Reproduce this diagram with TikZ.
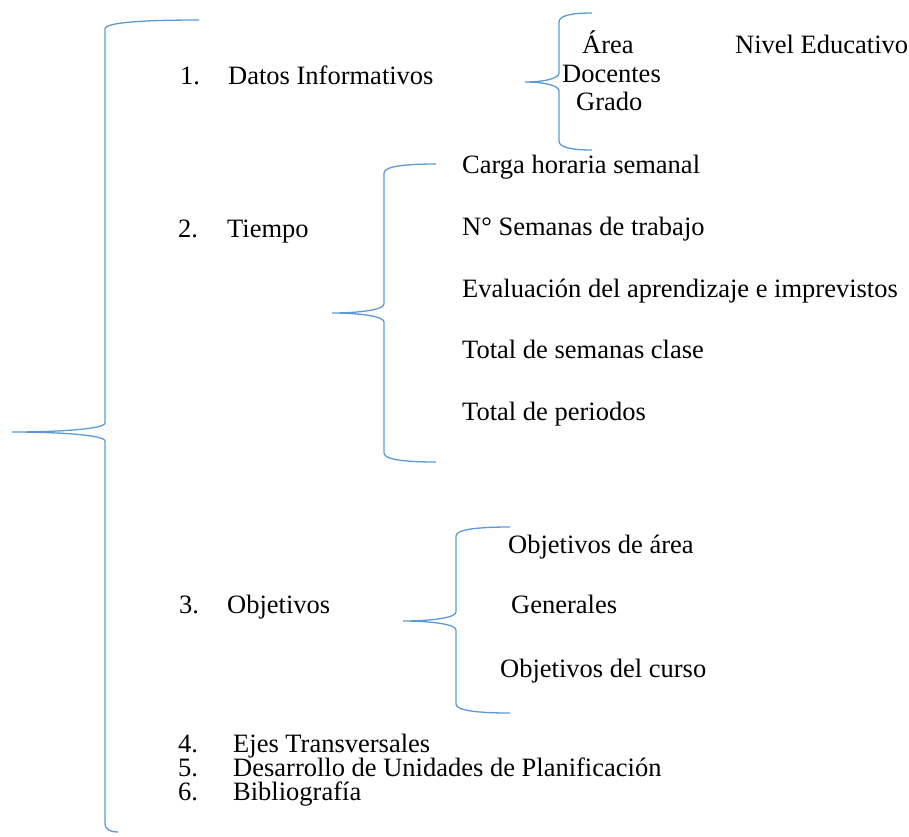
\documentclass[tikz,border=0pt]{standalone}
\usepackage{fontspec}
\setmainfont{Liberation Serif}
\definecolor{bracecol}{HTML}{5B9BD5}
\newcommand\curlybr[7]{% #1 xe top, #2 yt, #3 xv, #4 xt, #5 ym, #6 yb, #7 xe bottom
  \draw[brace] (#1,#2) .. controls ({#3+0.45*(#1-#3)},#2) and (#3,{#2+2}) .. (#3,{#2+9})
    -- (#3,{#5-9}) .. controls (#3,{#5-3}) and ({#4+0.5*(#3-#4)},#5) .. (#4,#5)
    .. controls ({#4+0.5*(#3-#4)},#5) and (#3,{#5+3}) .. (#3,{#5+9})
    -- (#3,{#6-9}) .. controls (#3,{#6-2}) and ({#3+0.45*(#7-#3)},#6) .. (#7,#6);}
\begin{document}
\begin{tikzpicture}[x=1pt,y=-1pt,
  txt/.style={anchor=base west, inner sep=0pt, font=\fontsize{26.5}{30}\selectfont},
  brace/.style={draw=bracecol, line width=1.3pt}]
\useasboundingbox (0,0) rectangle (909,836);
% braces
\curlybr{199}{20}{105}{12}{432}{832}{118}
\curlybr{592}{13}{559}{525}{82}{150}{592}
\curlybr{436}{164}{384}{332}{313}{462}{436}
\curlybr{510}{527}{456}{403}{621}{713}{510}
% item 1
\node[txt] (n1) at (180,84) {1.};
\node[txt] (t1) at (228,84) {Datos Informativos};
\node[txt] (a1) at (582,53) {Área};
\node[txt] (a2) at (735,53) {Nivel Educativo};
\node[txt] (a3) at (562,82) {Docentes};
\node[txt] (a4) at (576,110) {Grado};
% item 2
\node[txt] (n2) at (178,237) {2.};
\node[txt] (t2) at (227,237) {Tiempo};
\node[txt] (b1) at (462,173) {Carga horaria semanal};
\node[txt] (b2) at (462,235) {N° Semanas de trabajo};
\node[txt] (b3) at (462,297) {Evaluación del aprendizaje e imprevistos};
\node[txt] (b4) at (462,358) {Total de semanas clase};
\node[txt] (b5) at (462,420) {Total de periodos};
% item 3
\node[txt] (n3) at (179,613) {3.};
\node[txt] (t3) at (227,613) {Objetivos};
\node[txt] (c1) at (508,553) {Objetivos de área};
\node[txt] (c2) at (511,613) {Generales};
\node[txt] (c3) at (500,677) {Objetivos del curso};
% items 4-6
\node[txt] (n4) at (178,752) {4.};
\node[txt] (t4) at (233,752) {Ejes Transversales};
\node[txt] (n5) at (178,776) {5.};
\node[txt] (t5) at (233,776) {Desarrollo de Unidades de Planificación};
\node[txt] (n6) at (178,800) {6.};
\node[txt] (t6) at (233,800) {Bibliografía};
\end{tikzpicture}
\end{document}
